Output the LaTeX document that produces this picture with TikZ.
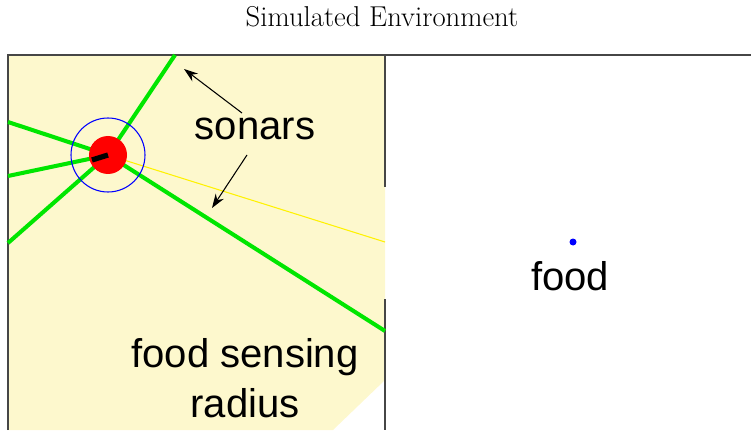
\documentclass[tikz,border=0pt]{standalone}
\usepackage{fontspec}
\usepackage{tikz}
\usetikzlibrary{arrows.meta, positioning}
\newfontfamily\labelfont{Liberation Sans}
\definecolor{sensefill}{RGB}{253,248,205}
\definecolor{sonargreen}{RGB}{0,230,0}
\definecolor{wallgray}{RGB}{70,70,70}
\tikzset{
  wall/.style={draw=wallgray, line width=0.9pt},
  sonar/.style={draw=sonargreen, line width=2.3pt},
  biglabel/.style={font=\labelfont\fontsize{22.8}{27.9}\selectfont, inner sep=0pt}
}

\begin{document}
\begin{tikzpicture}[>={Stealth[length=8pt, width=5.5pt]}]
    \useasboundingbox (0,0) rectangle (15.02,8.6);
    % food sensing area
    \fill[sensefill] (0.16,7.5) -- (7.7,7.5) -- (7.7,1.0) -- (6.66,0) -- (0.16,0) -- cycle;

    % walls
    \draw[wall] (0.16,0) -- (0.16,7.5) -- (15.02,7.5);
    \draw[wall, line width=1.2pt] (7.7,7.5) -- (7.7,4.86);
    \draw[wall, line width=1.2pt] (7.7,2.62) -- (7.7,0);

    \node[anchor=base, font=\fontsize{16.35}{20}\selectfont] (title) at (7.64,8.06) {Simulated Environment};

    % sonar ends
    \coordinate (s1) at (3.5,7.5);
    \coordinate (s2) at (0.16,6.16);
    \coordinate (s3) at (0.16,5.08);
    \coordinate (s4) at (0.16,3.74);
    \coordinate (s5) at (7.7,1.98);
    \coordinate (s6) at (7.7,3.76);
    \coordinate (head) at (1.84,5.4);

    \coordinate (c) at (2.16,5.5);
    \foreach \s in {s1,s2,s3,s4,s5}
        \draw[sonar] (c) -- (\s);
    \draw[yellow, line width=0.6pt] (c) -- (s6);

    \node[circle, draw=blue, line width=0.6pt, minimum size=1.48cm, inner sep=0pt] (range) at (c) {};
    \node[circle, fill=red, minimum size=0.76cm, inner sep=0pt] (robot) at (c) {};
    \draw[line width=3pt] (robot.center) -- (head);

    % food
    \node[circle, fill=blue, minimum size=0.14cm, inner sep=0pt] (food) at (11.46,3.76) {};
    \node[biglabel, anchor=base] (foodlabel) at (11.4,2.8) {food};

    % labels
    \node[biglabel, anchor=base] (sonars) at (5.1,5.8) {sonars};
    \coordinate (a1) at (4.84,6.34);
    \coordinate (a2) at (4.94,5.5);
    \coordinate (t1) at (3.68,7.22);
    \coordinate (t2) at (4.24,4.44);
    \draw[->, line width=0.6pt] (a1) -- (t1);
    \draw[->, line width=0.6pt] (a2) -- (t2);

    \node[biglabel, anchor=base, align=center] (sensing) at (4.9,0.26) {food sensing\\radius};
\end{tikzpicture}
\end{document}
